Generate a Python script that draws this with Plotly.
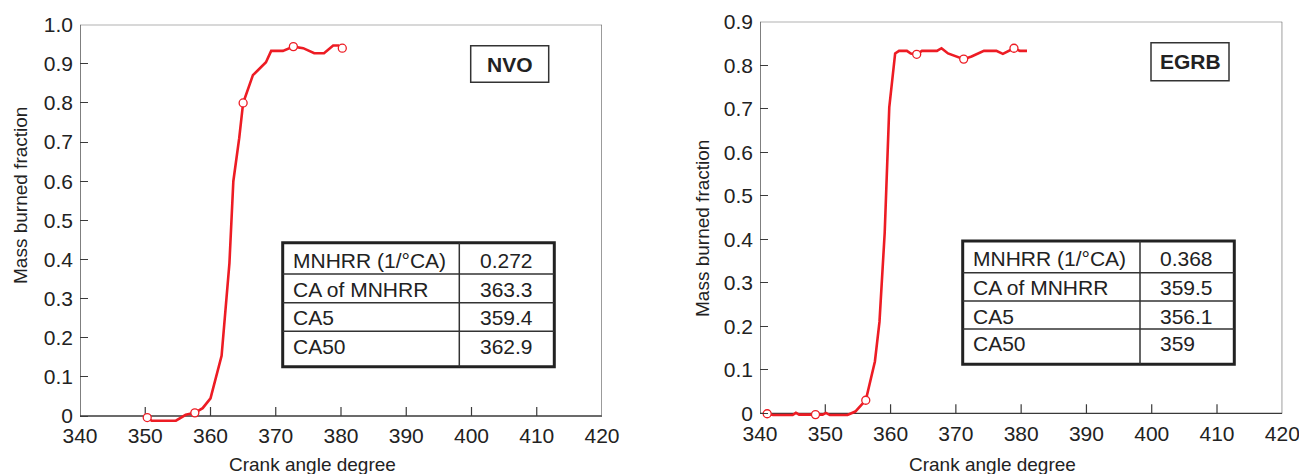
import plotly.graph_objects as go

# ---------------- data ----------------
nvo_x = [350.3, 351.0, 354.7, 356.2, 357.6, 358.8, 360.0, 361.7, 362.9, 363.5, 364.4, 365.0,
         366.5, 368.5, 369.3, 371.1, 372.7, 374.2, 375.9, 377.4, 378.8, 379.6, 380.2]
nvo_y = [-0.004, -0.012, -0.012, 0.003, 0.008, 0.020, 0.045, 0.154, 0.39, 0.60, 0.71, 0.80,
         0.871, 0.904, 0.933, 0.933, 0.944, 0.940, 0.927, 0.927, 0.947, 0.947, 0.940]
nvo_mx = [350.3, 357.6, 365.0, 372.7, 380.2]
nvo_my = [-0.004, 0.008, 0.80, 0.944, 0.940]

egrb_x = [341.1, 342.0, 345.0, 345.5, 346.0, 348.5, 349.6, 350.1, 350.7, 353.4, 354.6, 355.5,
          356.2, 357.6, 358.3, 359.1, 359.8, 360.7, 361.3, 362.5, 363.1, 364.0, 364.8, 367.1,
          367.8, 368.8, 371.2, 372.4, 374.3, 376.2, 377.2, 378.9, 379.8, 380.9]
egrb_y = [-0.001, -0.004, -0.004, 0.001, -0.003, -0.003, -0.003, 0.001, -0.004, -0.004, 0.004, 0.019,
          0.030, 0.119, 0.21, 0.415, 0.703, 0.827, 0.833, 0.833, 0.827, 0.825, 0.833, 0.833,
          0.839, 0.827, 0.814, 0.820, 0.833, 0.833, 0.826, 0.839, 0.833, 0.833]
egrb_mx = [341.1, 348.5, 356.2, 364.0, 371.2, 378.9]
egrb_my = [-0.001, -0.003, 0.030, 0.825, 0.814, 0.839]

x_ticks = [340, 350, 360, 370, 380, 390, 400, 410, 420]
nvo_yticks = [0, 0.1, 0.2, 0.3, 0.4, 0.5, 0.6, 0.7, 0.8, 0.9, 1.0]
nvo_yticktext = ["0", "0.1", "0.2", "0.3", "0.4", "0.5", "0.6", "0.7", "0.8", "0.9", "1.0"]
egrb_yticks = [0, 0.1, 0.2, 0.3, 0.4, 0.5, 0.6, 0.7, 0.8, 0.9]
egrb_yticktext = ["0", "0.1", "0.2", "0.3", "0.4", "0.5", "0.6", "0.7", "0.8", "0.9"]

table_labels = ["MNHRR (1/°CA)", "CA of MNHRR", "CA5", "CA50"]
nvo_table_vals = ["0.272", "363.3", "359.4", "362.9"]
egrb_table_vals = ["0.368", "359.5", "356.1", "359"]

x_title = "Crank angle degree"
y_title = "Mass burned fraction"

# ---------------- style ----------------
W, H = 1299, 474
RED = "#ED1C24"
TXT = "#222222"
AX = "#3a3a3a"
FONT = "Liberation Sans, Arial, Helvetica, sans-serif"


def px(x):
    return x / W


def py(y):
    return 1 - y / H


fig = go.Figure()

for xs, ys, mx, my, xa, ya in [
    (nvo_x, nvo_y, nvo_mx, nvo_my, "x", "y"),
    (egrb_x, egrb_y, egrb_mx, egrb_my, "x2", "y2"),
]:
    fig.add_trace(go.Scatter(x=xs, y=ys, mode="lines", xaxis=xa, yaxis=ya,
                             line=dict(color=RED, width=2.6), showlegend=False,
                             hoverinfo="skip"))
    fig.add_trace(go.Scatter(x=mx, y=my, mode="markers", xaxis=xa, yaxis=ya,
                             marker=dict(size=8, color="white", line=dict(color=RED, width=1.3)),
                             showlegend=False, cliponaxis=False))

tickfont = dict(family=FONT, size=21, color=TXT)

common_x = dict(range=[340, 420], tickvals=x_ticks, ticks="", showline=False, zeroline=False,
                showgrid=False, tickfont=tickfont, ticklabelstandoff=-5, fixedrange=True,
                automargin=False, ticklabeloverflow="allow")
common_y = dict(ticks="inside", ticklen=8, tickcolor=AX, tickwidth=1.2, showline=False,
                zeroline=False, showgrid=False, tickfont=tickfont, ticklabelstandoff=6,
                fixedrange=True, automargin=False, ticklabeloverflow="allow")

# pixel geometry of the two panels (window pixels)
L = dict(x0=80, x1=602, ytop=24.7, yzero=416.0, ymax=1.0)
R = dict(x0=760, x1=1282.3, ytop=21.7, yzero=413.3, ymax=0.9)
YMIN = -0.025


def ydom(p):
    scale = (p["yzero"] - p["ytop"]) / p["ymax"]
    bottom = p["yzero"] - YMIN * scale
    return [py(bottom), py(p["ytop"])]


fig.update_layout(
    width=W, height=H, margin=dict(l=0, r=0, t=0, b=0, pad=0, autoexpand=False),
    paper_bgcolor="white", plot_bgcolor="white",
    font=dict(family=FONT, color=TXT),
    xaxis=dict(domain=[px(L["x0"]), px(L["x1"])], anchor="y", **common_x),
    yaxis=dict(domain=ydom(L), range=[YMIN, L["ymax"]], anchor="x",
               tickvals=nvo_yticks, ticktext=nvo_yticktext, **common_y),
    xaxis2=dict(domain=[px(R["x0"]), px(R["x1"])], anchor="y2", **common_x),
    yaxis2=dict(domain=ydom(R), range=[YMIN, R["ymax"]], anchor="x2",
                tickvals=egrb_yticks, ticktext=egrb_yticktext, **common_y),
)

shapes = []
annotations = []

# frames + x tick marks (drawn from the axis values)
for xa, ya, ymax in [("x", "y", L["ymax"]), ("x2", "y2", R["ymax"])]:
    shapes.append(dict(type="line", xref=xa, yref=ya, x0=340, x1=420, y0=0, y1=0,
                       line=dict(color=AX, width=1.3), layer="below"))
    shapes.append(dict(type="line", xref=xa, yref=ya, x0=340, x1=340, y0=0, y1=ymax,
                       line=dict(color=AX, width=1.3), layer="below"))
    shapes.append(dict(type="line", xref=xa, yref=ya, x0=340, x1=420, y0=ymax, y1=ymax,
                       line=dict(color="#666666", width=1.3), layer="below"))
    shapes.append(dict(type="line", xref=xa, yref=ya, x0=420, x1=420, y0=0, y1=ymax,
                       line=dict(color="#666666", width=1.3), layer="below"))
    for v in x_ticks[1:-1]:
        shapes.append(dict(type="line", xref=xa, yref=ya, x0=v, x1=v,
                           ysizemode="pixel", yanchor=0, y0=0, y1=9,
                           line=dict(color=AX, width=1.2), layer="below"))


# tag boxes
def tag(text, x0, y0, x1, y1):
    shapes.append(dict(type="rect", xref="paper", yref="paper", x0=px(x0), x1=px(x1),
                       y0=py(y1), y1=py(y0), line=dict(color="#333333", width=1.5),
                       fillcolor="white"))
    annotations.append(dict(xref="paper", yref="paper", x=px((x0 + x1) / 2), y=py((y0 + y1) / 2),
                            text="<b>%s</b>" % text, showarrow=False, xanchor="center",
                            yanchor="middle", font=dict(family=FONT, size=21, color=TXT)))


tag("NVO", 470.7, 45.7, 548.7, 82.3)
tag("EGRB", 1151, 42.7, 1229, 80.7)


# tables
def table(vals, x0, x1, xs, y0, y1, rows, text_y, col2_x):
    shapes.append(dict(type="rect", xref="paper", yref="paper", x0=px(x0), x1=px(x1),
                       y0=py(y1), y1=py(y0), line=dict(color="#222222", width=3),
                       fillcolor="white"))
    shapes.append(dict(type="line", xref="paper", yref="paper", x0=px(xs), x1=px(xs),
                       y0=py(y1), y1=py(y0), line=dict(color="#333333", width=1.5)))
    for r in rows:
        shapes.append(dict(type="line", xref="paper", yref="paper", x0=px(x0), x1=px(x1),
                           y0=py(r), y1=py(r), line=dict(color="#333333", width=1.5)))
    for lab, val, ty in zip(table_labels, vals, text_y):
        annotations.append(dict(xref="paper", yref="paper", x=px(x0 + 8), y=py(ty), text=lab,
                                showarrow=False, xanchor="left", yanchor="middle",
                                font=dict(family=FONT, size=21, color=TXT)))
        annotations.append(dict(xref="paper", yref="paper", x=px(col2_x), y=py(ty), text=val,
                                showarrow=False, xanchor="left", yanchor="middle",
                                font=dict(family=FONT, size=21, color=TXT)))


table(nvo_table_vals, 282.7, 554.3, 459.3, 242.7, 366.7, [274.0, 302.7, 331.3],
      [260.7, 289.2, 317.8, 346.7], 478)
table(egrb_table_vals, 962.7, 1234.3, 1140.0, 241.0, 364.3, [272.7, 301.0, 329.0],
      [258.3, 287.3, 316.0, 343.3], 1158)

# axis titles
for xc, yc in [(312, 464), (992, 464)]:
    annotations.append(dict(xref="paper", yref="paper", x=px(xc), y=py(yc), text=x_title,
                            showarrow=False, xanchor="center", yanchor="middle",
                            font=dict(family=FONT, size=19, color=TXT)))
for xc, yc in [(20, 196), (702, 229)]:
    annotations.append(dict(xref="paper", yref="paper", x=px(xc), y=py(yc), text=y_title,
                            showarrow=False, xanchor="center", yanchor="middle", textangle=-90,
                            font=dict(family=FONT, size=19, color=TXT)))

fig.update_layout(shapes=shapes, annotations=annotations)
fig.write_html("out.html", config={"displayModeBar": False},
               post_script="document.body.style.margin='0';document.body.style.overflow='hidden';")
